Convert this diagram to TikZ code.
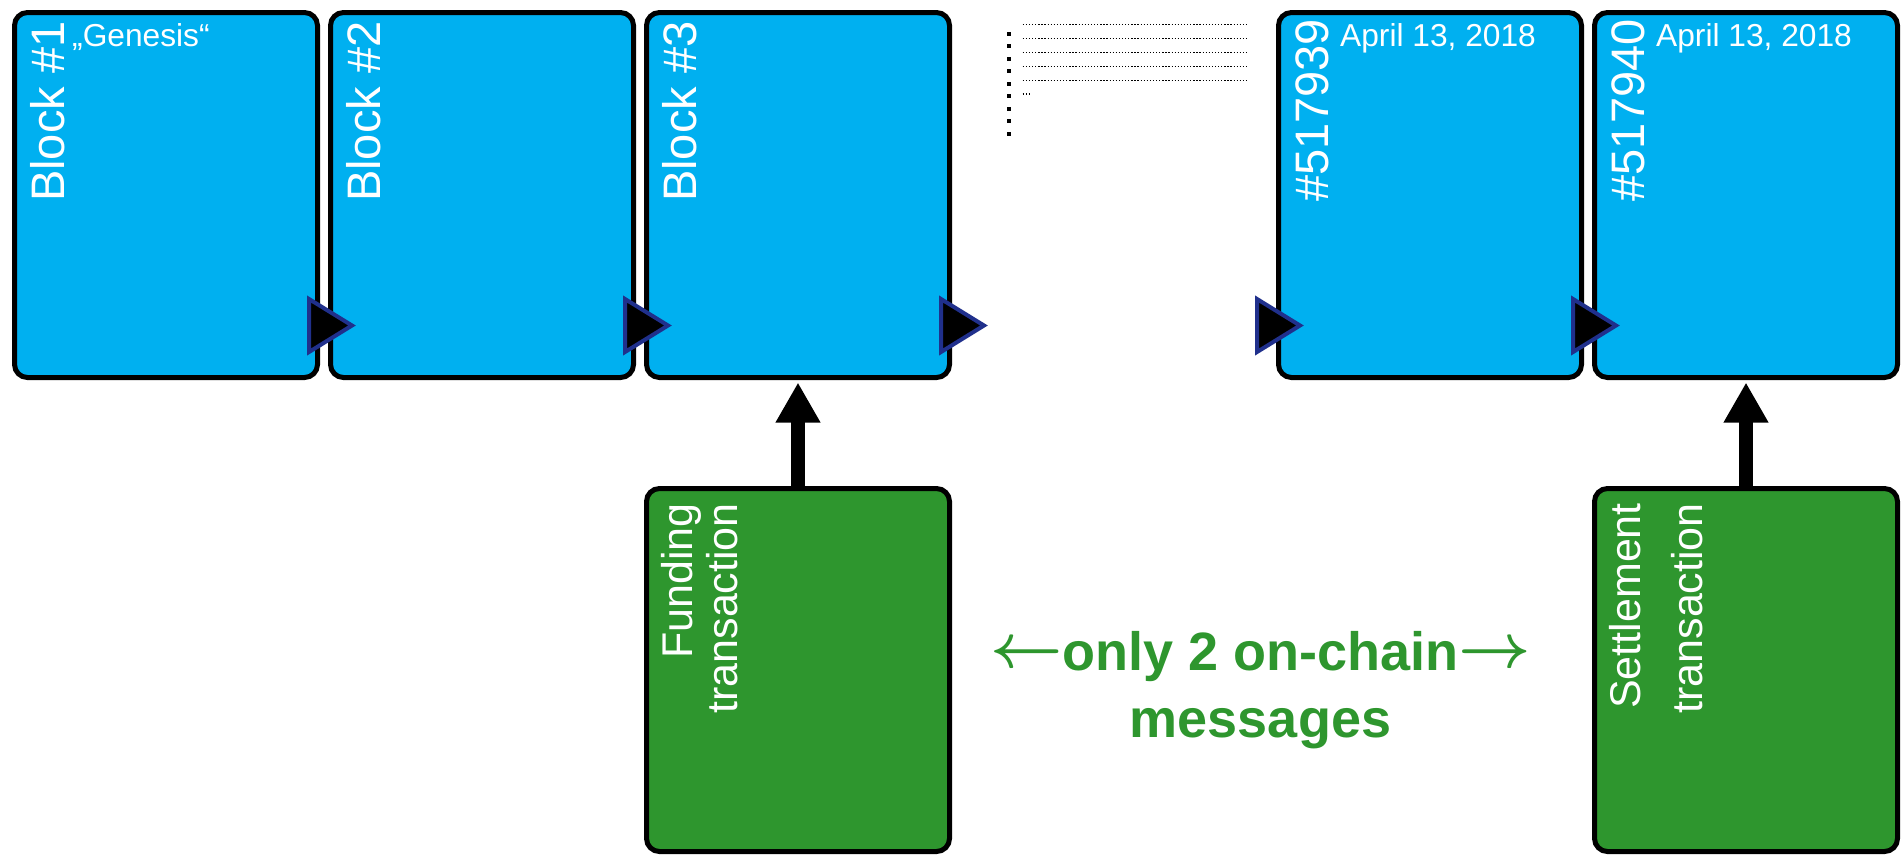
\documentclass[tikz,border=0pt]{standalone}
\usepackage{graphicx}
\usepackage{fontspec}
\setmainfont{Liberation Sans}
\usetikzlibrary{arrows.meta}
\definecolor{blockblue}{RGB}{0,176,240}
\definecolor{txgreen}{RGB}{46,150,46}
\definecolor{navyedge}{RGB}{32,48,140}
\newcommand{\msgarrow}[1]{\raisebox{3pt}{\scalebox{6.3}{\fontsize{10}{12}\selectfont\boldmath$#1$}}}
\begin{document}
\begin{tikzpicture}[x=1pt,y=1pt,
  blockbox/.style={draw=black, line width=5pt, fill=blockblue, rounded corners=13pt,
    minimum width=303pt, minimum height=365pt, inner sep=0pt, outer sep=0pt, anchor=north west},
  txbox/.style={blockbox, fill=txgreen, minimum height=363pt},
  biglabel/.style={rotate=90, anchor=base west, inner sep=0pt, text=white,
    font=\fontsize{47}{50}\selectfont},
  datelabel/.style={anchor=base west, inner sep=0pt, text=white,
    font=\fontsize{31.7}{34}\selectfont},
  txlabel/.style={rotate=90, anchor=base east, inner sep=0pt, text=white,
    font=\fontsize{43}{45}\selectfont},
  msglabel/.style={anchor=base, inner sep=0pt, text=txgreen,
    font=\bfseries\fontsize{54}{60}\selectfont},
  linkarrow/.style={draw=navyedge, fill=black, line width=4pt, line join=miter},
  uparrow/.style={line width=14pt, -{Triangle[width=42pt,length=40pt]}, shorten >=5pt},
  dotline/.style={line width=1.4pt, dash pattern=on 1.3pt off 1.8pt},
]
\useasboundingbox (0,0) rectangle (1904,-855);

% blocks
\node[blockbox] (b1) at (14.5,-12.5) {};
\node[blockbox] (b2) at (330.5,-12.5) {};
\node[blockbox] (b3) at (646.5,-12.5) {};
\node[blockbox] (b4) at (1278.5,-12.5) {};
\node[blockbox] (b5) at (1594.5,-12.5) {};

% transactions
\node[txbox] (fund) at (646.5,-488.5) {};
\node[txbox] (settle) at (1594.5,-488.5) {};

% block labels
\node[biglabel] (l1) at (64,-202) {Block \#1};
\node[biglabel] (l2) at (380,-202) {Block \#2};
\node[biglabel] (l3) at (696,-202) {Block \#3};
\node[biglabel] (l4) at (1328,-202) {\#517939};
\node[biglabel] (l5) at (1644,-202) {\#517940};

\node[datelabel] (gen) at (72,-46.7) {„Genesis“};
\node[datelabel] (d4) at (1340,-46.7) {April 13, 2018};
\node[datelabel] (d5) at (1656,-46.7) {April 13, 2018};

% transaction labels
\node[txlabel] (fl1) at (692,-503) {Funding};
\node[txlabel] (fl2) at (737,-503) {transaction};
\node[txlabel] (sl1) at (1640,-503) {Settlement};
\node[txlabel] (sl2) at (1702,-503) {transaction};

% chain link triangles
\draw[linkarrow] ([shift={(-21.5,-286.5)}]b2.north west) -- ++(0,-53) -- ++(43,26.5) -- cycle;
\draw[linkarrow] ([shift={(-21.5,-286.5)}]b3.north west) -- ++(0,-53) -- ++(43,26.5) -- cycle;
\draw[linkarrow] ([shift={(-8.5,-286.5)}]b3.north east) -- ++(0,-53) -- ++(43,26.5) -- cycle;
\draw[linkarrow] ([shift={(-21.5,-286.5)}]b4.north west) -- ++(0,-53) -- ++(43,26.5) -- cycle;
\draw[linkarrow] ([shift={(-21.5,-286.5)}]b5.north west) -- ++(0,-53) -- ++(43,26.5) -- cycle;

% up arrows
\draw[uparrow] (fund.north) -- (b3.south);
\draw[uparrow] (settle.north) -- (b5.south);

% message text
\node[msglabel] (m1) at (1260.5,-670) {\msgarrow{\leftarrow}only 2 on-chain\msgarrow{\rightarrow}};
\node[msglabel] (m2) at (1260.5,-737) {messages};

% ellipsis marks
\foreach \k in {0,...,8} {
  \fill (1006.7,{-31.8-12.48*\k}) rectangle ++(4,-4);
}
\foreach \yy in {24.7,38.7,52.7,66.7,80.3} {
  \draw[dotline] (1022.7,-\yy) -- (1247,-\yy);
}
\draw[dotline] (1022.7,-94) -- (1029.8,-94);
\end{tikzpicture}
\end{document}
